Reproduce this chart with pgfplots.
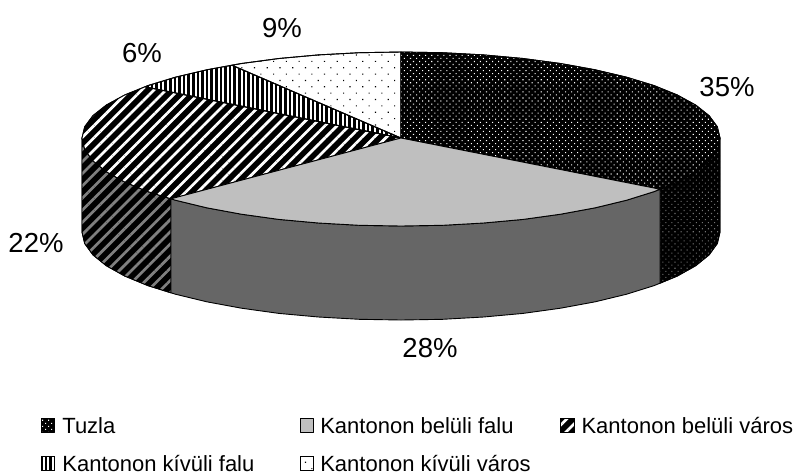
\documentclass[border=0pt]{standalone}
\usepackage{fontspec}
\setmainfont{Liberation Sans}
\usepackage{pgfplots}
\pgfplotsset{compat=1.18}
\usetikzlibrary{patterns.meta}
\tikzset{
  edge/.style={draw=black,line width=0.9pt,line join=round},
  tuzlatop/.style={edge,preaction={fill=black},pattern={Dots[angle=45,distance=4.3pt,radius=0.75pt]},pattern color=white},
  tuzlaside/.style={edge,preaction={fill=black},pattern={Dots[angle=45,distance=4.3pt,radius=0.75pt]},pattern color=black!55!white},
  grtop/.style={edge,fill=black!25!white},
  grside/.style={edge,fill=black!60!white},
  strtop/.style={edge,preaction={fill=black},pattern={Lines[angle=45,distance=8.6pt,line width=2.7pt]},pattern color=white},
  strside/.style={edge,preaction={fill=black},pattern={Lines[angle=45,distance=8.6pt,line width=2.7pt]},pattern color=black!50!white},
  vertop/.style={edge,preaction={fill=white},pattern={Lines[angle=90,distance=4.6pt,line width=2.6pt]},pattern color=black},
  dottop/.style={edge,preaction={fill=white},pattern={Dots[angle=45,distance=9pt,radius=0.8pt]},pattern color=black},
}
\pgfplotsset{sq/.style={legend image code/.code={\draw[##1] (0pt,-7pt) rectangle (13.5pt,7pt);}}}
\begin{document}
\begin{tikzpicture}
\useasboundingbox (0,0) rectangle (799pt,475pt);
\begin{axis}[
  at={(0,0)},anchor=south west,
  width=799pt,height=475pt,scale only axis,hide axis,
  xmin=0,xmax=799,ymin=0,ymax=475,y dir=reverse,clip=false,
  legend columns=3,
  legend cell align=left,
  legend style={draw=none,fill=none,at={(41/799,1-417/475)},anchor=north west,
    inner sep=0pt,outer sep=0pt,row sep=20.2pt,
    font=\fontsize{22}{24}\selectfont,
    nodes={inner sep=0pt,outer sep=0pt},
    /tikz/column 1/.style={column sep=7pt},
    /tikz/column 2/.style={column sep=45.5pt},
    /tikz/column 3/.style={column sep=6pt},
    /tikz/column 4/.style={column sep=29.5pt},
    /tikz/column 5/.style={column sep=7pt}},
]
% sides
\addplot[tuzlaside,forget plot] coordinates {(660,189.2)(677.3,182)(695.7,171.7)(709.1,160.8)(717.3,149.5)(720,138)(720,232)(717.3,243.5)(709.1,254.8)(695.7,265.7)(677.3,276)(660,283.2)(660,189.2)};
\addplot[strside,forget plot] coordinates {(171,198.8)(147.9,191.6)(124.7,182)(106.3,171.7)(92.9,160.8)(84.7,149.5)(82,138)(82,232)(84.7,243.5)(92.9,254.8)(106.3,265.7)(124.7,276)(147.9,285.6)(171,292.8)(171,198.8)};
\addplot[grside,forget plot] coordinates {(660,189.2)(654.1,191.6)(626.6,200.2)(595.2,207.8)(560.5,214.2)(523.1,219.4)(483.6,223)(442.6,225.3)(401,226)(359.4,225.3)(318.4,223)(278.9,219.4)(241.5,214.2)(206.8,207.8)(175.4,200.2)(171,198.8)(171,292.8)(175.4,294.2)(206.8,301.8)(241.5,308.2)(278.9,313.4)(318.4,317)(359.4,319.3)(401,320)(442.6,319.3)(483.6,317)(523.1,313.4)(560.5,308.2)(595.2,301.8)(626.6,294.2)(654.1,285.6)(660,283.2)(660,189.2)};
% tops
\addplot[strtop,forget plot] coordinates {(401,138)(171,198.8)(147.9,191.6)(124.7,182)(106.3,171.7)(92.9,160.8)(84.7,149.5)(82,138)(84.7,126.8)(92.9,115.7)(106.3,105.1)(124.7,95)(145,86.8)(401,138)};
\addplot[vertop,forget plot] coordinates {(401,138)(145,86.8)(147.9,85.6)(175.4,77.2)(206.8,69.8)(232,65.2)(401,138)};
\addplot[dottop,forget plot] coordinates {(401,138)(232,65.2)(241.5,63.5)(278.9,58.5)(318.4,54.9)(359.4,52.7)(401,52)(401,138)};
\addplot[tuzlatop,forget plot] coordinates {(401,138)(401,52)(442.6,52.7)(483.6,54.9)(523.1,58.5)(560.5,63.5)(595.2,69.8)(626.6,77.2)(654.1,85.6)(677.3,95)(695.7,105.1)(709.1,115.7)(717.3,126.8)(720,138)(717.3,149.5)(709.1,160.8)(695.7,171.7)(677.3,182)(660,189.2)(401,138)};
\addplot[grtop,forget plot] coordinates {(401,138)(660,189.2)(654.1,191.6)(626.6,200.2)(595.2,207.8)(560.5,214.2)(523.1,219.4)(483.6,223)(442.6,225.3)(401,226)(359.4,225.3)(318.4,223)(278.9,219.4)(241.5,214.2)(206.8,207.8)(175.4,200.2)(171,198.8)(401,138)};
% labels
\node[font=\fontsize{27.5}{27}\selectfont] at (axis cs:727,87) {35\%};
\node[font=\fontsize{27.5}{27}\selectfont] at (axis cs:430,348) {28\%};
\node[font=\fontsize{27.5}{27}\selectfont] at (axis cs:36,243) {22\%};
\node[font=\fontsize{27.5}{27}\selectfont] at (axis cs:142,53) {6\%};
\node[font=\fontsize{27.5}{27}\selectfont] at (axis cs:282,28) {9\%};
% legend
\addlegendimage{sq,tuzlatop}\addlegendentry{Tuzla}
\addlegendimage{sq,grtop}\addlegendentry{Kantonon belüli falu}
\addlegendimage{sq,strtop}\addlegendentry{Kantonon belüli város}
\addlegendimage{sq,vertop}\addlegendentry{Kantonon kívüli falu}
\addlegendimage{sq,dottop}\addlegendentry{Kantonon kívüli város}
\end{axis}
\end{tikzpicture}
\end{document}
